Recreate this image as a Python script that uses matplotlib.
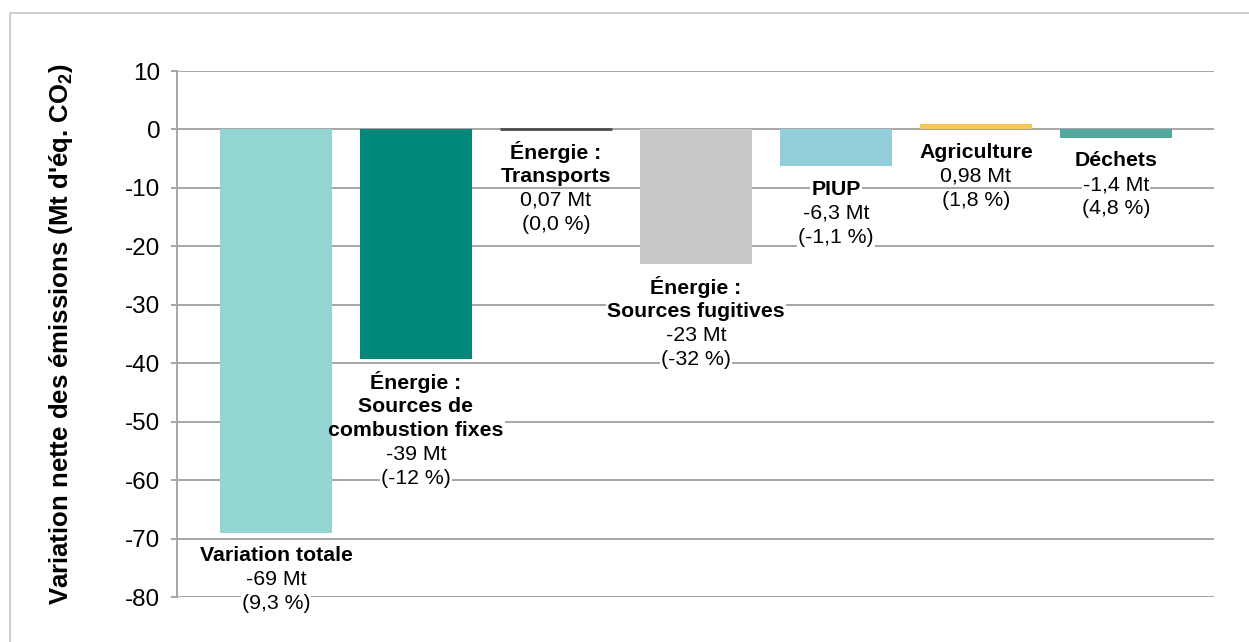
import matplotlib
matplotlib.use('Agg')
import matplotlib.pyplot as plt
from matplotlib.patches import Rectangle

plt.rcParams['font.family'] = ['Liberation Sans', 'DejaVu Sans']
plt.rcParams['mathtext.default'] = 'regular'

# data
names = ['Variation totale', 'Énergie :\nSources de\ncombustion fixes', 'Énergie :\nTransports',
         'Énergie :\nSources fugitives', 'PIUP', 'Agriculture', 'Déchets']
values = [-69, -39.3, 0.07, -23.1, -6.3, 0.98, -1.4]
value_labels = ['-69 Mt', '-39 Mt', '0,07 Mt', '-23 Mt', '-6,3 Mt', '0,98 Mt', '-1,4 Mt']
pct_labels = ['(9,3 %)', '(-12 %)', '(0,0 %)', '(-32 %)', '(-1,1 %)', '(1,8 %)', '(4,8 %)']
colors = ['#93d5d2', '#00897a', '#4d4d4d', '#c8c8c8', '#93cedb', '#f6c85c', '#53a99d']
yticks = [10, 0, -10, -20, -30, -40, -50, -60, -70, -80]

fig = plt.figure(figsize=(12.49, 6.42), dpi=100)
ax = fig.add_axes([177/1249, 1-597/642, 1037/1249, 526/642])

x = range(len(values))
bars = ax.bar(x, values, width=0.8, color=colors, zorder=3)
# the transport bar is tiny, give it an edge like the original
bars[2].set_edgecolor(colors[2])
bars[2].set_linewidth(2)

ax.set_ylim(-80, 10)
ax.set_xlim(-0.707, 6.7)
ax.set_yticks(yticks)
ax.set_yticklabels([str(t) for t in yticks])
ax.set_xticks([])
ax.grid(axis='y', color='#a6a6a6', linewidth=1.4, zorder=0)
for s in ['top', 'right', 'bottom']:
    ax.spines[s].set_visible(False)
ax.spines['left'].set_color('#a6a6a6')
ax.spines['left'].set_linewidth(1.4)
ax.tick_params(axis='y', length=4, width=1.4, color='#a6a6a6', labelsize=17.5, pad=8)

ax.set_ylabel("Variation nette des émissions (Mt d'éq. CO$_2$)", fontsize=18.5, fontweight='bold')
ax.yaxis.set_label_coords(-102/1037, 0.5)


def label(txt, i, base, off, weight):
    # white box under the bars (hides gridlines), text itself above the bars
    ax.annotate(txt, (i, base), xytext=(0, -off*0.72), textcoords='offset points',
                ha='center', va='center', fontsize=15.3, fontweight=weight, zorder=2,
                color='white', bbox=dict(boxstyle='square,pad=0.05', fc='white', ec='none'))
    ax.annotate(txt, (i, base), xytext=(0, -off*0.72), textcoords='offset points',
                ha='center', va='center', fontsize=15.3, fontweight=weight, zorder=5)


for i, v in enumerate(values):
    base = min(v, 0)
    off = 23
    for ln in names[i].split('\n'):
        label(ln, i, base, off, 'bold')
        off += 24
    for ln in [value_labels[i], pct_labels[i]]:
        label(ln, i, base, off, 'normal')
        off += 24

fig.patches.append(Rectangle((10/1249, -0.05), 1.2, 1-13/642+0.05, transform=fig.transFigure,
                             fill=False, edgecolor='#c8c8c8', linewidth=1.2))

fig.savefig('out.png', dpi=100)
